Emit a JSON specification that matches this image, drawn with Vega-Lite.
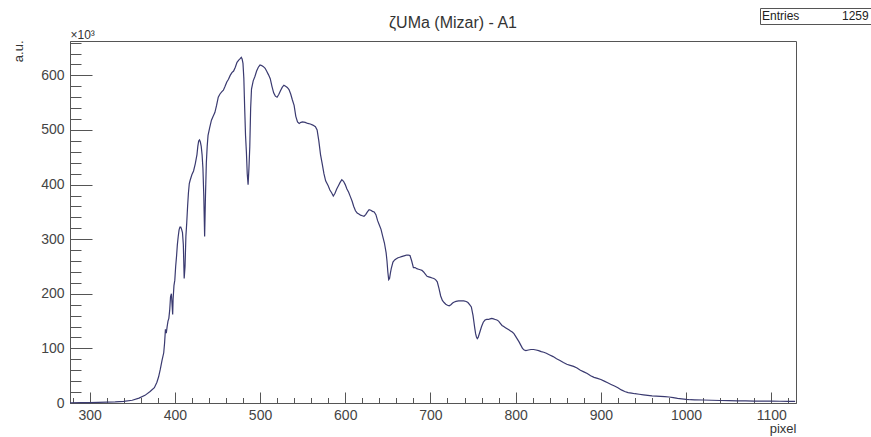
{
  "$schema": "https://vega.github.io/schema/vega-lite/v6.json",
  "width": 726,
  "height": 362,
  "autosize": {"type": "none"},
  "padding": {"left": 70, "top": 41, "right": 75, "bottom": 34},
  "background": "white",
  "config": {
    "view": {"stroke": "#555", "strokeWidth": 1},
    "font": "Liberation Sans"
  },
  "title": {
    "text": "ζUMa (Mizar) - A1",
    "fontSize": 16,
    "fontWeight": "normal",
    "color": "#333",
    "anchor": "middle",
    "dx": 20,
    "dy": 27
  },
  "data": {
    "values": [
      {"pixel": 277, "au": 0.5}, {"pixel": 290, "au": 0.6}, {"pixel": 300, "au": 0.8}, {"pixel": 310, "au": 1},
      {"pixel": 320, "au": 1.5}, {"pixel": 330, "au": 2}, {"pixel": 340, "au": 3}, {"pixel": 350, "au": 5},
      {"pixel": 358, "au": 9}, {"pixel": 365, "au": 14}, {"pixel": 371, "au": 21}, {"pixel": 376, "au": 28},
      {"pixel": 379, "au": 38}, {"pixel": 381, "au": 48}, {"pixel": 383, "au": 62}, {"pixel": 385, "au": 78},
      {"pixel": 387, "au": 92}, {"pixel": 388, "au": 110}, {"pixel": 389, "au": 135}, {"pixel": 390, "au": 128},
      {"pixel": 391, "au": 140}, {"pixel": 392, "au": 150}, {"pixel": 393, "au": 155}, {"pixel": 394, "au": 170},
      {"pixel": 395, "au": 195}, {"pixel": 396, "au": 200}, {"pixel": 397, "au": 175}, {"pixel": 397.5, "au": 162},
      {"pixel": 398, "au": 190}, {"pixel": 399, "au": 215}, {"pixel": 400, "au": 225}, {"pixel": 401, "au": 250},
      {"pixel": 402, "au": 268}, {"pixel": 403, "au": 290}, {"pixel": 404, "au": 305}, {"pixel": 405, "au": 317},
      {"pixel": 406, "au": 322}, {"pixel": 407, "au": 322}, {"pixel": 408, "au": 318}, {"pixel": 409, "au": 312},
      {"pixel": 410, "au": 290}, {"pixel": 411, "au": 228}, {"pixel": 412, "au": 250}, {"pixel": 413, "au": 305},
      {"pixel": 414, "au": 330}, {"pixel": 415, "au": 360}, {"pixel": 416, "au": 385}, {"pixel": 417, "au": 402},
      {"pixel": 418, "au": 408}, {"pixel": 420, "au": 418}, {"pixel": 422, "au": 425}, {"pixel": 424, "au": 438},
      {"pixel": 426, "au": 455}, {"pixel": 427, "au": 470}, {"pixel": 428, "au": 480}, {"pixel": 429, "au": 482},
      {"pixel": 430, "au": 478}, {"pixel": 431, "au": 470}, {"pixel": 432, "au": 455}, {"pixel": 433, "au": 430},
      {"pixel": 434, "au": 380}, {"pixel": 435, "au": 305}, {"pixel": 436, "au": 380}, {"pixel": 437, "au": 440},
      {"pixel": 438, "au": 470}, {"pixel": 439, "au": 490}, {"pixel": 441, "au": 505}, {"pixel": 443, "au": 518},
      {"pixel": 445, "au": 525}, {"pixel": 447, "au": 532}, {"pixel": 449, "au": 545}, {"pixel": 451, "au": 560},
      {"pixel": 453, "au": 566}, {"pixel": 455, "au": 570}, {"pixel": 457, "au": 573}, {"pixel": 459, "au": 580},
      {"pixel": 461, "au": 588}, {"pixel": 463, "au": 593}, {"pixel": 465, "au": 600}, {"pixel": 467, "au": 605},
      {"pixel": 469, "au": 608}, {"pixel": 471, "au": 615}, {"pixel": 473, "au": 624}, {"pixel": 475, "au": 628},
      {"pixel": 477, "au": 631}, {"pixel": 478, "au": 633}, {"pixel": 479, "au": 630}, {"pixel": 480, "au": 622},
      {"pixel": 481, "au": 595}, {"pixel": 482, "au": 540}, {"pixel": 483, "au": 490}, {"pixel": 484, "au": 460},
      {"pixel": 485, "au": 420}, {"pixel": 486, "au": 400}, {"pixel": 487, "au": 430}, {"pixel": 488, "au": 470},
      {"pixel": 489, "au": 540}, {"pixel": 490, "au": 575}, {"pixel": 492, "au": 590}, {"pixel": 494, "au": 598},
      {"pixel": 496, "au": 608}, {"pixel": 498, "au": 615}, {"pixel": 500, "au": 619}, {"pixel": 502, "au": 618},
      {"pixel": 504, "au": 616}, {"pixel": 506, "au": 613}, {"pixel": 508, "au": 607}, {"pixel": 510, "au": 601},
      {"pixel": 512, "au": 594}, {"pixel": 514, "au": 580}, {"pixel": 516, "au": 568}, {"pixel": 518, "au": 562},
      {"pixel": 520, "au": 560}, {"pixel": 522, "au": 565}, {"pixel": 524, "au": 572}, {"pixel": 526, "au": 578},
      {"pixel": 528, "au": 582}, {"pixel": 530, "au": 580}, {"pixel": 532, "au": 578}, {"pixel": 534, "au": 574},
      {"pixel": 536, "au": 566}, {"pixel": 538, "au": 555}, {"pixel": 540, "au": 545}, {"pixel": 542, "au": 525},
      {"pixel": 544, "au": 515}, {"pixel": 546, "au": 512}, {"pixel": 548, "au": 514}, {"pixel": 550, "au": 515},
      {"pixel": 553, "au": 514}, {"pixel": 556, "au": 512}, {"pixel": 559, "au": 511}, {"pixel": 562, "au": 509},
      {"pixel": 565, "au": 506}, {"pixel": 567, "au": 500}, {"pixel": 569, "au": 480}, {"pixel": 571, "au": 455},
      {"pixel": 573, "au": 438}, {"pixel": 575, "au": 420}, {"pixel": 577, "au": 407}, {"pixel": 580, "au": 398},
      {"pixel": 582, "au": 390}, {"pixel": 584, "au": 385}, {"pixel": 586, "au": 379}, {"pixel": 588, "au": 384},
      {"pixel": 590, "au": 392}, {"pixel": 592, "au": 398}, {"pixel": 594, "au": 404}, {"pixel": 596, "au": 409},
      {"pixel": 598, "au": 406}, {"pixel": 600, "au": 400}, {"pixel": 602, "au": 392}, {"pixel": 604, "au": 386},
      {"pixel": 606, "au": 378}, {"pixel": 608, "au": 370}, {"pixel": 610, "au": 360}, {"pixel": 612, "au": 352},
      {"pixel": 614, "au": 348}, {"pixel": 616, "au": 346}, {"pixel": 618, "au": 344}, {"pixel": 620, "au": 343},
      {"pixel": 622, "au": 342}, {"pixel": 624, "au": 345}, {"pixel": 626, "au": 350}, {"pixel": 628, "au": 354},
      {"pixel": 630, "au": 353}, {"pixel": 632, "au": 351}, {"pixel": 634, "au": 350}, {"pixel": 636, "au": 345},
      {"pixel": 638, "au": 334}, {"pixel": 640, "au": 326}, {"pixel": 642, "au": 318}, {"pixel": 644, "au": 305},
      {"pixel": 646, "au": 293}, {"pixel": 648, "au": 275}, {"pixel": 649, "au": 260}, {"pixel": 650, "au": 240},
      {"pixel": 651, "au": 226}, {"pixel": 652, "au": 228}, {"pixel": 653, "au": 238}, {"pixel": 654, "au": 246},
      {"pixel": 656, "au": 258}, {"pixel": 658, "au": 262}, {"pixel": 660, "au": 264}, {"pixel": 662, "au": 266},
      {"pixel": 664, "au": 267}, {"pixel": 666, "au": 268}, {"pixel": 668, "au": 269}, {"pixel": 670, "au": 270},
      {"pixel": 672, "au": 271}, {"pixel": 674, "au": 271}, {"pixel": 676, "au": 270}, {"pixel": 678, "au": 260},
      {"pixel": 680, "au": 248}, {"pixel": 682, "au": 248}, {"pixel": 684, "au": 246}, {"pixel": 686, "au": 245},
      {"pixel": 688, "au": 244}, {"pixel": 690, "au": 243}, {"pixel": 692, "au": 240}, {"pixel": 694, "au": 236},
      {"pixel": 696, "au": 232}, {"pixel": 698, "au": 231}, {"pixel": 700, "au": 230}, {"pixel": 702, "au": 229},
      {"pixel": 704, "au": 228}, {"pixel": 706, "au": 226}, {"pixel": 708, "au": 222}, {"pixel": 710, "au": 210},
      {"pixel": 712, "au": 196}, {"pixel": 714, "au": 188}, {"pixel": 716, "au": 184}, {"pixel": 718, "au": 181},
      {"pixel": 720, "au": 179}, {"pixel": 722, "au": 178}, {"pixel": 724, "au": 180}, {"pixel": 726, "au": 183},
      {"pixel": 728, "au": 185}, {"pixel": 730, "au": 186}, {"pixel": 733, "au": 187}, {"pixel": 736, "au": 187},
      {"pixel": 739, "au": 187}, {"pixel": 742, "au": 186}, {"pixel": 744, "au": 184}, {"pixel": 746, "au": 180},
      {"pixel": 748, "au": 176}, {"pixel": 750, "au": 160}, {"pixel": 752, "au": 137}, {"pixel": 753, "au": 127},
      {"pixel": 754, "au": 121}, {"pixel": 755, "au": 118}, {"pixel": 756, "au": 120}, {"pixel": 758, "au": 130},
      {"pixel": 760, "au": 140}, {"pixel": 762, "au": 148}, {"pixel": 764, "au": 152}, {"pixel": 766, "au": 153},
      {"pixel": 768, "au": 153}, {"pixel": 770, "au": 154}, {"pixel": 772, "au": 155}, {"pixel": 774, "au": 154},
      {"pixel": 776, "au": 153}, {"pixel": 778, "au": 152}, {"pixel": 780, "au": 150}, {"pixel": 782, "au": 146},
      {"pixel": 784, "au": 142}, {"pixel": 786, "au": 140}, {"pixel": 788, "au": 138}, {"pixel": 790, "au": 136},
      {"pixel": 792, "au": 134}, {"pixel": 794, "au": 132}, {"pixel": 796, "au": 130}, {"pixel": 798, "au": 127},
      {"pixel": 800, "au": 122}, {"pixel": 802, "au": 117}, {"pixel": 804, "au": 112}, {"pixel": 806, "au": 106},
      {"pixel": 808, "au": 100}, {"pixel": 810, "au": 97}, {"pixel": 812, "au": 96}, {"pixel": 815, "au": 97},
      {"pixel": 818, "au": 98}, {"pixel": 821, "au": 98}, {"pixel": 824, "au": 97}, {"pixel": 827, "au": 96},
      {"pixel": 830, "au": 94}, {"pixel": 833, "au": 93}, {"pixel": 836, "au": 91}, {"pixel": 840, "au": 88},
      {"pixel": 844, "au": 85}, {"pixel": 848, "au": 81}, {"pixel": 852, "au": 78}, {"pixel": 856, "au": 74},
      {"pixel": 860, "au": 71}, {"pixel": 864, "au": 69}, {"pixel": 868, "au": 67}, {"pixel": 872, "au": 64},
      {"pixel": 876, "au": 60}, {"pixel": 880, "au": 57}, {"pixel": 884, "au": 54}, {"pixel": 888, "au": 50},
      {"pixel": 892, "au": 47}, {"pixel": 896, "au": 45}, {"pixel": 900, "au": 43}, {"pixel": 904, "au": 40},
      {"pixel": 908, "au": 37}, {"pixel": 912, "au": 34}, {"pixel": 916, "au": 31}, {"pixel": 920, "au": 28},
      {"pixel": 924, "au": 24}, {"pixel": 928, "au": 21}, {"pixel": 932, "au": 19}, {"pixel": 936, "au": 18},
      {"pixel": 940, "au": 17}, {"pixel": 945, "au": 16}, {"pixel": 950, "au": 15}, {"pixel": 955, "au": 14},
      {"pixel": 960, "au": 13}, {"pixel": 965, "au": 12.5}, {"pixel": 970, "au": 12}, {"pixel": 975, "au": 11.5},
      {"pixel": 980, "au": 11}, {"pixel": 985, "au": 10}, {"pixel": 990, "au": 8.5}, {"pixel": 995, "au": 7.5},
      {"pixel": 1000, "au": 6.5}, {"pixel": 1005, "au": 6}, {"pixel": 1010, "au": 5.8}, {"pixel": 1020, "au": 5.5},
      {"pixel": 1030, "au": 5}, {"pixel": 1040, "au": 4.6}, {"pixel": 1050, "au": 4.2}, {"pixel": 1060, "au": 4},
      {"pixel": 1070, "au": 3.8}, {"pixel": 1080, "au": 3.6}, {"pixel": 1090, "au": 3.5}, {"pixel": 1100, "au": 3.3},
      {"pixel": 1110, "au": 3.2}, {"pixel": 1120, "au": 3.1}, {"pixel": 1128, "au": 3}
    ]
  },
  "layer": [
    {
      "mark": {"type": "line", "strokeWidth": 1.2, "interpolate": "linear"},
      "encoding": {
        "x": {
          "field": "pixel",
          "type": "quantitative",
          "scale": {"domain": [277, 1129], "nice": false, "zero": false},
          "axis": {
            "title": "pixel",
            "values": [280, 300, 320, 340, 360, 380, 400, 420, 440, 460, 480, 500, 520, 540, 560, 580, 600, 620, 640, 660, 680, 700, 720, 740, 760, 780, 800, 820, 840, 860, 880, 900, 920, 940, 960, 980, 1000, 1020, 1040, 1060, 1080, 1100, 1120],
            "labelExpr": "datum.value % 100 === 0 ? datum.value : ''",
            "tickSize": {"condition": {"test": "datum.value % 100 === 0", "value": -11}, "value": -5.5},
            "labelPadding": 16,
            "labelFontSize": 14,
            "labelColor": "#444",
            "labelFlush": false,
            "labelOverlap": false,
            "tickColor": "#555",
            "domainColor": "#555",
            "grid": false,
            "titleAnchor": "end",
            "titleAlign": "right",
            "titleX": 726,
            "titleY": 29,
            "titleBaseline": "alphabetic",
            "titleFontSize": 13,
            "titleFontWeight": "normal",
            "titleColor": "#333"
          }
        },
        "y": {
          "field": "au",
          "type": "quantitative",
          "scale": {"domain": [0, 663], "nice": false},
          "axis": {
            "title": "a.u.",
            "values": [0, 20, 40, 60, 80, 100, 120, 140, 160, 180, 200, 220, 240, 260, 280, 300, 320, 340, 360, 380, 400, 420, 440, 460, 480, 500, 520, 540, 560, 580, 600, 620, 640, 660],
            "labelExpr": "datum.value % 100 === 0 ? datum.value : ''",
            "tickSize": {"condition": {"test": "datum.value % 100 === 0", "value": -22}, "value": -11},
            "labelPadding": 28,
            "labelFontSize": 14,
            "labelColor": "#444",
            "labelFlush": false,
            "labelOverlap": false,
            "tickColor": "#555",
            "domainColor": "#555",
            "grid": false,
            "titleAngle": -90,
            "titleAnchor": "end",
            "titleAlign": "right",
            "titleX": -48,
            "titleY": -1,
            "titleBaseline": "alphabetic",
            "titleFontSize": 13,
            "titleFontWeight": "normal",
            "titleColor": "#333"
          }
        },
        "stroke": {
          "datum": "1259",
          "type": "nominal",
          "scale": {"range": ["#3a3a70"]},
          "legend": {
            "title": "Entries",
            "orient": "none",
            "legendX": 690,
            "legendY": -33,
            "direction": "horizontal",
            "titleOrient": "left",
            "symbolSize": 0,
            "symbolStrokeWidth": 0,
            "symbolOpacity": 0,
            "strokeColor": "#555",
            "fillColor": "white",
            "padding": 2,
            "titleFontSize": 12,
            "titleFontWeight": "normal",
            "titleColor": "#222",
            "labelFontSize": 12,
            "labelColor": "#222",
            "titlePadding": 30,
            "labelOffset": 0
          }
        }
      }
    },
    {
      "mark": {"type": "line", "strokeOpacity": 0},
      "encoding": {
        "x": {
          "field": "pixel",
          "type": "quantitative",
          "axis": {
            "orient": "top",
            "labels": false,
            "ticks": false,
            "domain": false,
            "grid": false,
            "title": "×10³",
            "titleAnchor": "start",
            "titleAlign": "left",
            "titleX": 0,
            "titleY": -3,
            "titleBaseline": "alphabetic",
            "titleFontSize": 12,
            "titleFontWeight": "normal",
            "titleColor": "#333"
          }
        }
      }
    }
  ],
  "resolve": {"axis": {"x": "independent"}}
}
